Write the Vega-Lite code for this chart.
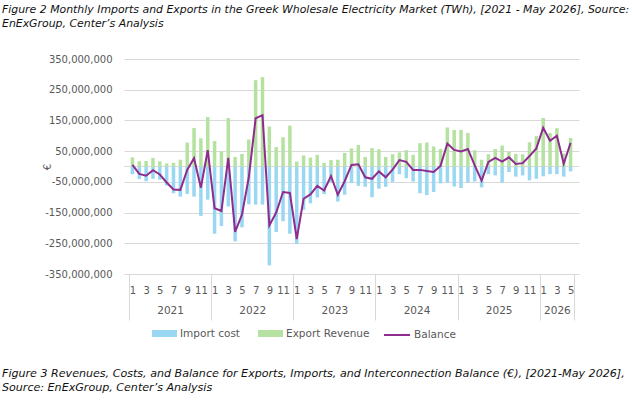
{
  "$schema": "https://vega.github.io/schema/vega-lite/v6.json",
  "background": "white",
  "padding": {"left": 2, "top": 3, "right": 2, "bottom": 2},
  "config": {"font": "DejaVu Sans", "view": {"stroke": null}, "concat": {"spacing": 0}},
  "title": {
    "text": ["Figure 2 Monthly Imports and Exports in the Greek Wholesale Electricity Market (TWh), [2021 - May 2026], Source:", "EnExGroup, Center’s Analysis"],
    "anchor": "start", "frame": "bounds", "font": "DejaVu Sans", "fontSize": 10.9, "fontStyle": "italic", "fontWeight": "normal",
    "color": "#111111", "lineHeight": 14.5, "offset": 25
  },
  "vconcat": [
    {
      "width": 455,
      "height": 215,
      "title": {
        "text": ["Figure 3 Revenues, Costs, and Balance for Exports, Imports, and Interconnection Balance (€), [2021-May 2026],", "Source: EnExGroup, Center’s Analysis"],
        "orient": "bottom", "anchor": "start", "frame": "bounds", "font": "DejaVu Sans", "fontSize": 11.1, "fontStyle": "italic", "fontWeight": "normal",
        "color": "#111111", "lineHeight": 14.5, "offset": 47, "dx": -40
      },
      "data": {
        "values": [
          {"year": 2021, "month": 1, "import": -25000000, "export": 30000000, "balance": 5000000},
          {"year": 2021, "month": 2, "import": -41000000, "export": 17000000, "balance": -24000000},
          {"year": 2021, "month": 3, "import": -48000000, "export": 18000000, "balance": -30000000},
          {"year": 2021, "month": 4, "import": -40000000, "export": 28000000, "balance": -12000000},
          {"year": 2021, "month": 5, "import": -43000000, "export": 17000000, "balance": -26000000},
          {"year": 2021, "month": 6, "import": -62000000, "export": 10000000, "balance": -52000000},
          {"year": 2021, "month": 7, "import": -87000000, "export": 12000000, "balance": -75000000},
          {"year": 2021, "month": 8, "import": -98000000, "export": 22000000, "balance": -76000000},
          {"year": 2021, "month": 9, "import": -89000000, "export": 78000000, "balance": -11000000},
          {"year": 2021, "month": 10, "import": -98000000, "export": 125000000, "balance": 27000000},
          {"year": 2021, "month": 11, "import": -161000000, "export": 92000000, "balance": -69000000},
          {"year": 2021, "month": 12, "import": -108000000, "export": 161000000, "balance": 53000000},
          {"year": 2022, "month": 1, "import": -219000000, "export": 83000000, "balance": -136000000},
          {"year": 2022, "month": 2, "import": -194000000, "export": 49000000, "balance": -145000000},
          {"year": 2022, "month": 3, "import": -130000000, "export": 158000000, "balance": 28000000},
          {"year": 2022, "month": 4, "import": -244000000, "export": 31000000, "balance": -213000000},
          {"year": 2022, "month": 5, "import": -198000000, "export": 41000000, "balance": -157000000},
          {"year": 2022, "month": 6, "import": -123000000, "export": 88000000, "balance": -35000000},
          {"year": 2022, "month": 7, "import": -124000000, "export": 281000000, "balance": 157000000},
          {"year": 2022, "month": 8, "import": -124000000, "export": 291000000, "balance": 167000000},
          {"year": 2022, "month": 9, "import": -322000000, "export": 130000000, "balance": -192000000},
          {"year": 2022, "month": 10, "import": -213000000, "export": 63000000, "balance": -150000000},
          {"year": 2022, "month": 11, "import": -178000000, "export": 95000000, "balance": -83000000},
          {"year": 2022, "month": 12, "import": -219000000, "export": 133000000, "balance": -86000000},
          {"year": 2023, "month": 1, "import": -252000000, "export": 16000000, "balance": -236000000},
          {"year": 2023, "month": 2, "import": -141000000, "export": 36000000, "balance": -105000000},
          {"year": 2023, "month": 3, "import": -120000000, "export": 29000000, "balance": -91000000},
          {"year": 2023, "month": 4, "import": -101000000, "export": 38000000, "balance": -63000000},
          {"year": 2023, "month": 5, "import": -90000000, "export": 12000000, "balance": -78000000},
          {"year": 2023, "month": 6, "import": -52000000, "export": 21000000, "balance": -31000000},
          {"year": 2023, "month": 7, "import": -114000000, "export": 22000000, "balance": -92000000},
          {"year": 2023, "month": 8, "import": -92000000, "export": 44000000, "balance": -48000000},
          {"year": 2023, "month": 9, "import": -54000000, "export": 59000000, "balance": 5000000},
          {"year": 2023, "month": 10, "import": -63000000, "export": 70000000, "balance": 7000000},
          {"year": 2023, "month": 11, "import": -66000000, "export": 31000000, "balance": -35000000},
          {"year": 2023, "month": 12, "import": -100000000, "export": 60000000, "balance": -40000000},
          {"year": 2024, "month": 1, "import": -72000000, "export": 56000000, "balance": -16000000},
          {"year": 2024, "month": 2, "import": -66000000, "export": 31000000, "balance": -35000000},
          {"year": 2024, "month": 3, "import": -50000000, "export": 40000000, "balance": -10000000},
          {"year": 2024, "month": 4, "import": -25000000, "export": 46000000, "balance": 21000000},
          {"year": 2024, "month": 5, "import": -38000000, "export": 53000000, "balance": 15000000},
          {"year": 2024, "month": 6, "import": -49000000, "export": 38000000, "balance": -11000000},
          {"year": 2024, "month": 7, "import": -87000000, "export": 76000000, "balance": -11000000},
          {"year": 2024, "month": 8, "import": -93000000, "export": 78000000, "balance": -15000000},
          {"year": 2024, "month": 9, "import": -83000000, "export": 65000000, "balance": -18000000},
          {"year": 2024, "month": 10, "import": -55000000, "export": 57000000, "balance": 2000000},
          {"year": 2024, "month": 11, "import": -52000000, "export": 127000000, "balance": 75000000},
          {"year": 2024, "month": 12, "import": -65000000, "export": 119000000, "balance": 54000000},
          {"year": 2025, "month": 1, "import": -70000000, "export": 119000000, "balance": 49000000},
          {"year": 2025, "month": 2, "import": -52000000, "export": 109000000, "balance": 57000000},
          {"year": 2025, "month": 3, "import": -49000000, "export": 53000000, "balance": 4000000},
          {"year": 2025, "month": 4, "import": -68000000, "export": 22000000, "balance": -46000000},
          {"year": 2025, "month": 5, "import": -25000000, "export": 40000000, "balance": 15000000},
          {"year": 2025, "month": 6, "import": -29000000, "export": 57000000, "balance": 28000000},
          {"year": 2025, "month": 7, "import": -52000000, "export": 68000000, "balance": 16000000},
          {"year": 2025, "month": 8, "import": -18000000, "export": 48000000, "balance": 30000000},
          {"year": 2025, "month": 9, "import": -33000000, "export": 41000000, "balance": 8000000},
          {"year": 2025, "month": 10, "import": -29000000, "export": 40000000, "balance": 11000000},
          {"year": 2025, "month": 11, "import": -45000000, "export": 79000000, "balance": 34000000},
          {"year": 2025, "month": 12, "import": -40000000, "export": 99000000, "balance": 59000000},
          {"year": 2026, "month": 1, "import": -32000000, "export": 158000000, "balance": 126000000},
          {"year": 2026, "month": 2, "import": -25000000, "export": 109000000, "balance": 84000000},
          {"year": 2026, "month": 3, "import": -25000000, "export": 125000000, "balance": 100000000},
          {"year": 2026, "month": 4, "import": -33000000, "export": 42000000, "balance": 9000000},
          {"year": 2026, "month": 5, "import": -16000000, "export": 93000000, "balance": 77000000}
        ]
      },
      "transform": [{"calculate": "(datum.year - 2021) * 12 + datum.month - 0.5", "as": "t"}],
      "resolve": {"axis": {"x": "independent"}, "scale": {"x": "shared"}},
      "layer": [
        {
          "mark": {"type": "rule", "color": "#d9d9d9", "strokeWidth": 1},
          "encoding": {
            "y": {"datum": 0, "type": "quantitative", "scale": {"domain": [-350000000, 350000000], "nice": false, "zero": false},
              "axis": {"title": "€", "values": [-350000000, -250000000, -150000000, -50000000, 50000000, 150000000, 250000000, 350000000],
                "tickCount": 20, "grid": true, "gridColor": "#d9d9d9", "gridWidth": 1, "domain": false, "ticks": false, "labelPadding": 12,
                "labelOverlap": false, "labelFont": "DejaVu Sans", "labelFontSize": 10, "labelColor": "#595959",
                "labelExpr": "(datum.value < 0 ? '-' : '') + format(abs(datum.value), ',')",
                "titleFont": "DejaVu Sans", "titleFontSize": 10, "titleColor": "#595959", "titleFontWeight": "normal", "titleX": -72}}
          }
        },
        {
          "mark": {"type": "bar", "orient": "vertical", "size": 3.5},
          "encoding": {
            "x": {"field": "t", "type": "quantitative", "scale": {"domain": [0, 65], "nice": false, "zero": false},
              "axis": {"orient": "bottom", "title": null, "values": [0.5, 2.5, 4.5, 6.5, 8.5, 10.5, 12.5, 14.5, 16.5, 18.5, 20.5, 22.5, 24.5, 26.5, 28.5, 30.5, 32.5, 34.5, 36.5, 38.5, 40.5, 42.5, 44.5, 46.5, 48.5, 50.5, 52.5, 54.5, 56.5, 58.5, 60.5, 62.5, 64.5],
                "tickCount": 80, "labelExpr": "floor(datum.value) % 12 + 1", "grid": false, "ticks": false, "domain": false, "labelPadding": 11,
                "labelOverlap": false, "labelFlush": false, "labelFont": "DejaVu Sans", "labelFontSize": 10, "labelColor": "#595959"}},
            "y": {"field": "import", "type": "quantitative", "scale": {"domain": [-350000000, 350000000], "nice": false, "zero": false}, "title": "€"},
            "fill": {"datum": "Import cost", "type": "nominal",
              "scale": {"domain": ["Import cost", "Export Revenue"], "range": ["#9ad7f3", "#b5e2a1"]},
              "legend": {"orient": "none", "legendX": 28, "legendY": 262, "direction": "horizontal", "title": null,
                "symbolType": "M-1,-0.28H1V0.28H-1Z", "symbolSize": 625, "symbolStrokeWidth": 0, "symbolOpacity": 1,
                "labelFont": "DejaVu Sans", "labelFontSize": 10.5, "labelColor": "#595959", "labelOffset": 3, "columnPadding": 18, "padding": 0}}
          }
        },
        {
          "mark": {"type": "bar", "orient": "vertical", "size": 3.5},
          "encoding": {
            "x": {"field": "t", "type": "quantitative", "scale": {"domain": [0, 65], "nice": false, "zero": false},
              "axis": {"orient": "bottom", "title": null, "values": [6, 18, 30, 42, 54, 62.5],
                "tickCount": 20, "labelExpr": "2021 + floor(datum.value / 12)", "grid": false, "ticks": false, "domain": false, "labelPadding": 31,
                "labelOverlap": false, "labelFlush": false, "labelFont": "DejaVu Sans", "labelFontSize": 10.5, "labelColor": "#595959"}},
            "y": {"field": "export", "type": "quantitative", "scale": {"domain": [-350000000, 350000000], "nice": false, "zero": false}, "title": "€"},
            "fill": {"datum": "Export Revenue", "type": "nominal"}
          }
        },
        {
          "mark": {"type": "line", "strokeWidth": 2},
          "encoding": {
            "x": {"field": "t", "type": "quantitative", "scale": {"domain": [0, 65], "nice": false, "zero": false},
              "axis": {"orient": "bottom", "title": null, "values": [0, 12, 24, 36, 48, 60, 65], "labels": false,
                "tickCount": 20, "grid": false, "ticks": true, "tickSize": 46, "tickColor": "#d9d9d9", "tickWidth": 1, "domain": false}},
            "y": {"field": "balance", "type": "quantitative", "scale": {"domain": [-350000000, 350000000], "nice": false, "zero": false}, "title": "€"},
            "stroke": {"datum": "Balance", "type": "nominal",
              "scale": {"domain": ["Balance"], "range": ["#8e2c8f"]},
              "legend": {"orient": "none", "legendX": 259, "legendY": 262, "direction": "horizontal", "title": null,
                "symbolType": "stroke", "symbolSize": 676, "symbolStrokeWidth": 2,
                "labelFont": "DejaVu Sans", "labelFontSize": 10.5, "labelColor": "#595959", "labelOffset": 3, "padding": 0}}
          }
        }
      ]
    }
  ]
}
